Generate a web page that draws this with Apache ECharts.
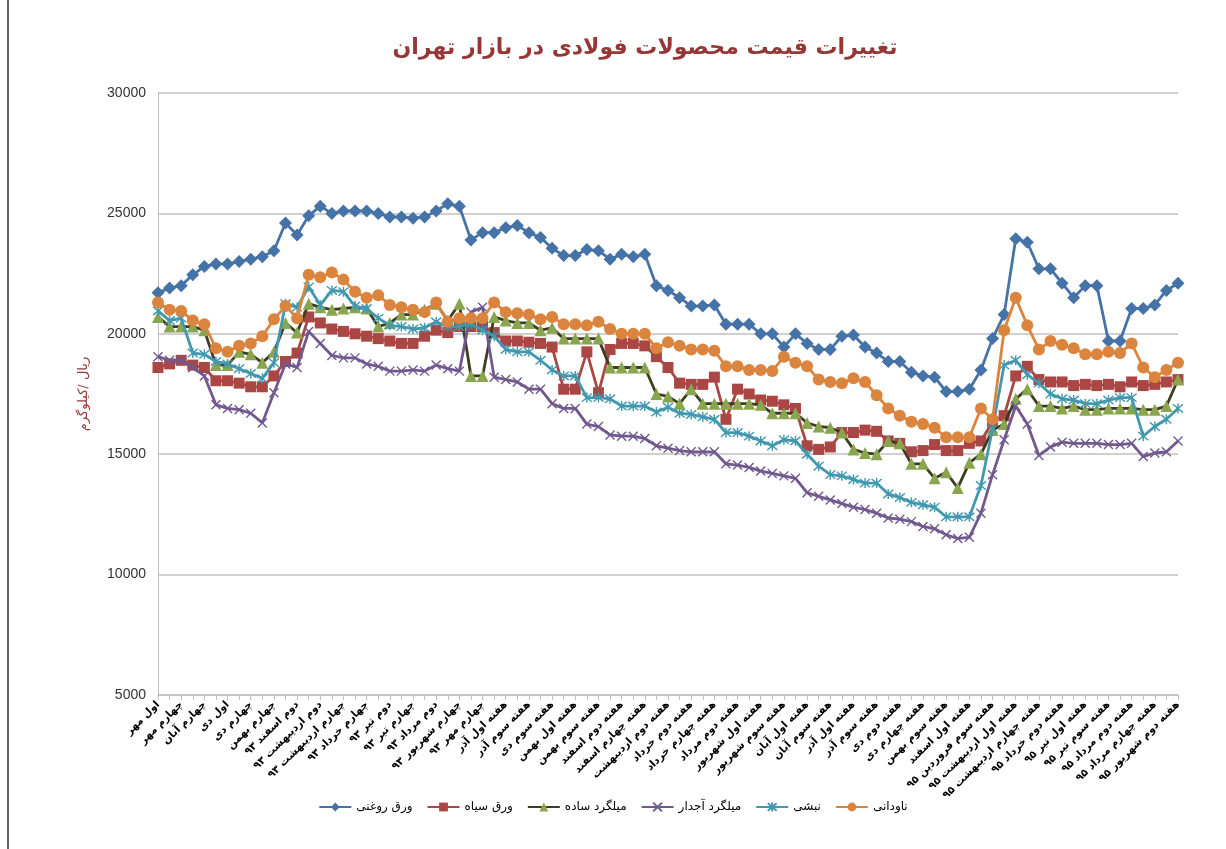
<!DOCTYPE html>
<html>
<head>
<meta charset="utf-8">
<script src="https://cdn.jsdelivr.net/npm/echarts@6/dist/echarts.min.js"></script>
<style>
html,body{margin:0;padding:0;background:#fff;}
#chart{width:1226px;height:849px;}
</style>
</head>
<body>
<div id="chart"></div>
<script>
// Tick labels shown on every other category (index 0,2,4,...)
const tickLabels = [
  "اول مهر","چهارم مهر","چهارم آبان","اول دی","چهارم دی","چهارم بهمن",
  "دوم اسفند ۹۳","دوم اردیبهشت ۹۳","چهارم اردیبهشت ۹۳","چهارم خرداد ۹۳",
  "دوم تیر ۹۳","چهارم تیر ۹۳","دوم مرداد ۹۳","چهارم شهریور ۹۳","چهارم مهر ۹۳",
  "هفته اول آذر","هفته سوم آذر","هفته سوم دی","هفته اول بهمن","هفته سوم بهمن",
  "هفته دوم اسفند","هفته چهارم اسفند","هفته دوم اردیبهشت","هفته دوم خرداد",
  "هفته چهارم خرداد","هفته دوم مرداد","هفته اول شهریور","هفته سوم شهریور",
  "هفته اول آبان","هفته سوم آبان","هفته اول آذر","هفته سوم آذر","هفته دوم دی",
  "هفته چهارم دی","هفته سوم بهمن","هفته اول اسفند","هفته سوم فروردین ۹۵",
  "هفته اول اردیبهشت ۹۵","هفته چهارم اردیبهشت ۹۵","هفته دوم خرداد ۹۵",
  "هفته اول تیر ۹۵","هفته سوم تیر ۹۵","هفته دوم مرداد ۹۵","هفته چهارم مرداد ۹۵",
  "هفته دوم شهریور ۹۵"
];
// Categories: labelled weeks at even positions, unlabelled weeks in between
const categories = [];
tickLabels.forEach(function(l, k){
  categories.push(l);
  if (k < tickLabels.length - 1) categories.push("");
});

const seriesNames = ["ورق روغنی","ورق سیاه","میلگرد ساده","میلگرد آجدار","نبشی","ناودانی"];

const varaghRoghani = [21700,21900,22000,22450,22800,22900,22900,23000,23100,23200,
  23450,24600,24100,24900,25300,25000,25100,25100,25100,25000,
  24850,24850,24800,24850,25100,25400,25300,23900,24200,24200,
  24400,24500,24200,24000,23550,23250,23250,23500,23450,23100,
  23300,23200,23300,22000,21800,21500,21150,21150,21200,20400,
  20400,20400,20000,20000,19450,20000,19600,19350,19350,19900,
  19950,19450,19200,18850,18850,18400,18250,18200,17600,17600,
  17700,18500,19800,20800,23950,23800,22700,22700,22100,21500,
  22000,22000,19700,19700,21050,21050,21200,21800,22100];

const varaghSiah = [18600,18750,18900,18700,18600,18050,18050,17950,17800,17800,
  18250,18850,19200,20700,20450,20200,20100,20000,19900,19800,
  19700,19600,19600,19900,20150,20050,20300,20300,20300,20050,
  19700,19700,19650,19600,19450,17700,17700,19250,17550,19350,
  19600,19600,19500,19050,18600,17950,17900,17900,18200,16450,
  17700,17500,17250,17200,17050,16900,15350,15200,15300,15900,
  15900,16000,15950,15550,15450,15100,15150,15400,15150,15150,
  15450,15550,16350,16600,18250,18650,18100,18000,18000,17850,
  17900,17850,17900,17800,18000,17850,17900,18000,18100];

const milgerdSadeh = [20700,20300,20300,20300,20150,18700,18700,19250,19150,18800,
  19250,20450,20050,21250,21100,21000,21050,21100,21050,20300,
  20450,20800,20800,21000,21250,20550,21250,18250,18250,20700,
  20550,20450,20450,20150,20250,19800,19800,19800,19800,18600,
  18600,18600,18600,17500,17400,17100,17700,17100,17100,17100,
  17100,17100,17050,16700,16700,16700,16300,16150,16100,15900,
  15200,15050,15000,15550,15450,14600,14600,14000,14250,13600,
  14650,15000,16000,16250,17300,17700,17000,17000,16900,17000,
  16850,16850,16900,16900,16900,16850,16850,17000,18100];

const milgerdAjdar = [19050,18900,18900,18600,18250,17050,16900,16850,16700,16300,
  17550,18750,18600,20100,19600,19100,19000,19000,18750,18650,
  18450,18450,18500,18450,18700,18550,18450,20900,21100,18200,
  18100,18000,17700,17700,17100,16900,16900,16250,16150,15800,
  15750,15750,15650,15350,15250,15150,15100,15100,15100,14600,
  14550,14450,14300,14200,14100,14000,13400,13250,13100,12950,
  12800,12700,12550,12350,12300,12200,12000,11900,11650,11500,
  11550,12550,14150,15600,17000,16250,14950,15300,15500,15450,
  15450,15450,15400,15400,15450,14900,15050,15100,15550];

const nabshi = [20950,20550,20650,19200,19150,18850,18750,18550,18350,18150,
  18800,21250,21100,21950,21200,21800,21750,21150,21050,20650,
  20350,20300,20200,20250,20500,20300,20300,20400,20150,19900,
  19350,19250,19250,18900,18500,18250,18250,17350,17350,17300,
  17000,17000,17000,16750,16950,16700,16650,16550,16450,15900,
  15900,15750,15550,15350,15600,15550,15000,14500,14150,14100,
  13950,13800,13800,13350,13200,13000,12900,12800,12400,12400,
  12400,13700,16050,18700,18900,18300,17950,17500,17300,17250,
  17100,17100,17250,17350,17350,15750,16150,16450,16900];

const navdani = [21300,21000,20950,20550,20400,19400,19250,19500,19600,19900,
  20600,21150,20650,22450,22350,22550,22250,21750,21500,21600,
  21200,21100,21000,20900,21300,20500,20650,20650,20650,21300,
  20900,20850,20800,20600,20700,20400,20400,20350,20500,20200,
  20000,20000,20000,19400,19650,19500,19350,19350,19300,18650,
  18650,18500,18500,18450,19050,18800,18650,18100,18000,17950,
  18150,18000,17450,16900,16600,16350,16250,16100,15700,15700,
  15700,16900,16450,20150,21500,20350,19350,19700,19550,19400,
  19150,19150,19250,19200,19600,18600,18200,18500,18800];

const yTicks = {min: 5000, max: 30000, step: 5000};

const crossPath = 'path://M0,0L10,10M10,0L0,10';
const starPath = 'path://M0,0L10,10M10,0L0,10M5,-1L5,11';

const styles = [
  {color:'#4572A7', line:'#4572A7', symbol:'diamond', size:13},
  {color:'#AA4643', line:'#AA4643', symbol:'rect', size:11},
  {color:'#89A54E', line:'#3F3C22', symbol:'triangle', size:12},
  {color:'#71588F', line:'#71588F', symbol:crossPath, size:9, stroke:true},
  {color:'#4198AF', line:'#4198AF', symbol:starPath, size:10, stroke:true},
  {color:'#DB843D', line:'#DB843D', symbol:'circle', size:12}
];
const dataSets = [varaghRoghani, varaghSiah, milgerdSadeh, milgerdAjdar, nabshi, navdani];

const series = dataSets.map(function(d, k){
  const s = styles[k];
  return {
    name: seriesNames[k],
    type: 'line',
    data: d,
    symbol: s.symbol,
    symbolSize: s.size,
    showAllSymbol: true,
    lineStyle: {color: s.line, width: 2.8},
    itemStyle: s.stroke ? {color: s.color, borderColor: s.color, borderWidth: 1.4}
                        : {color: s.color, borderWidth: 0},
    emphasis: {disabled: true},
    animation: false,
    z: 2 + k
  };
});

const chart = echarts.init(document.getElementById('chart'), null, {renderer: 'canvas'});
chart.setOption({
  backgroundColor: '#ffffff',
  animation: false,
  title: {
    text: 'تغییرات قیمت محصولات فولادی در بازار تهران',
    left: 640, top: 32, textAlign: 'center',
    textStyle: {fontFamily: 'DejaVu Sans', fontSize: 22, fontWeight: 'bold', color: '#953735'}
  },
  grid: {left: 158, right: 48, top: 93, bottom: 154, containLabel: false},
  legend: {
    top: 796, left: 'center',
    itemWidth: 32, itemHeight: 11, itemGap: 14,
    textStyle: {fontFamily: 'DejaVu Sans', fontSize: 12, color: '#000'},
    data: seriesNames
  },
  xAxis: {
    type: 'category',
    data: categories,
    boundaryGap: false,
    axisLine: {lineStyle: {color: '#bfbfbf', width: 1.5}},
    axisTick: {show: true, interval: 0, length: 5, lineStyle: {color: '#bfbfbf'}},
    axisLabel: {
      interval: 1, rotate: 45, margin: 8,
      fontFamily: 'DejaVu Sans', fontSize: 10.5, fontWeight: 'bold', color: '#000'
    },
    splitLine: {show: false}
  },
  yAxis: {
    type: 'value',
    min: yTicks.min, max: yTicks.max, interval: yTicks.step,
    name: 'ریال /کیلوگرم',
    nameLocation: 'middle', nameRotate: 90, nameGap: 68,
    nameTextStyle: {fontFamily: 'DejaVu Sans', fontSize: 13, color: '#953735'},
    axisLine: {show: true, lineStyle: {color: '#bfbfbf', width: 1}},
    axisTick: {show: false},
    axisLabel: {
      fontFamily: 'Liberation Sans Narrow, Liberation Sans', fontSize: 14, color: '#333', margin: 12,
      formatter: function(v){ return String(v); }
    },
    splitLine: {lineStyle: {color: '#c0c0c0', width: 1.5}}
  },
  graphic: [
    {type: 'line', shape: {x1: 8, y1: 0, x2: 8, y2: 849}, style: {stroke: '#000', lineWidth: 1.2}, silent: true}
  ],
  series: series
});
</script>
</body>
</html>
